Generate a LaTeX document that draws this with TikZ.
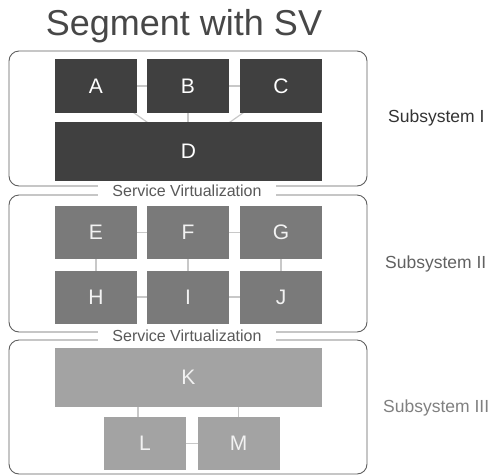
\documentclass[tikz,border=0pt]{standalone}
\usepackage{fontspec}
\setmainfont{Liberation Sans}
\usetikzlibrary{backgrounds}
\definecolor{darkbox}{HTML}{404040}
\definecolor{midbox}{HTML}{7A7A7A}
\definecolor{lightbox}{HTML}{A3A3A3}
\definecolor{frame}{HTML}{5E5E5E}
\definecolor{linkc}{HTML}{C8C8C8}
\tikzset{
  comp/.style={rectangle, inner sep=0pt, outer sep=0pt, text=white, font=\fontsize{21}{21}\selectfont},
  compI/.style={comp, fill=darkbox},
  compII/.style={comp, fill=midbox, text=white!95!black},
  compIII/.style={comp, fill=lightbox, text=white!95!black},
  group/.style={draw=frame, line width=0.9pt, rounded corners=10pt},
  link/.style={draw=linkc, line width=1.2pt},
  svlabel/.style={fill=white, inner sep=0pt, minimum width=178pt, minimum height=14pt, text=black!65, font=\fontsize{16}{16}\selectfont},
  sublabel/.style={anchor=base west, inner sep=0pt, font=\fontsize{17.5}{17.5}\selectfont},
}
\begin{document}
\begin{tikzpicture}[x=1pt,y=-1pt]
\useasboundingbox (0,0) rectangle (493,475);
% title
\node[anchor=base, inner sep=0pt, text=black!72, font=\fontsize{36}{36}\selectfont] (title) at (184,35) {Segment with SV};
% group frames
\draw[group] (9,51) rectangle (367,186);
\draw[group] (9,195) rectangle (367,332);
\draw[group] (9,340) rectangle (367,474);
% subsystem I
\node[compI, minimum width=82pt, minimum height=54pt] (A) at (96,86) {A};
\node[compI, minimum width=82pt, minimum height=54pt] (B) at (188,86) {B};
\node[compI, minimum width=82pt, minimum height=54pt] (C) at (281,86) {C};
\node[compI, minimum width=267pt, minimum height=59pt] (D) at (188.5,151.5) {D};
% subsystem II
\node[compII, minimum width=82pt, minimum height=53pt] (E) at (96,232.5) {E};
\node[compII, minimum width=82pt, minimum height=53pt] (F) at (188,232.5) {F};
\node[compII, minimum width=82pt, minimum height=53pt] (G) at (281,232.5) {G};
\node[compII, minimum width=82pt, minimum height=53pt] (H) at (96,297) {H};
\node[compII, minimum width=82pt, minimum height=53pt] (I) at (188,297) {I};
\node[compII, minimum width=82pt, minimum height=53pt] (J) at (281,297) {J};
% subsystem III
\node[compIII, minimum width=267pt, minimum height=59pt] (K) at (188.5,377.5) {K};
\node[compIII, minimum width=82pt, minimum height=53pt] (L) at (145,443.5) {L};
\node[compIII, minimum width=82pt, minimum height=53pt] (M) at (238.5,443.5) {M};
% connectors
\begin{pgfonlayer}{background}
\draw[link] (A) -- (B);
\draw[link] (B) -- (C);
\draw[link] (A.center) -- (D.center);
\draw[link] (B) -- (B |- D.north);
\draw[link] (C.center) -- (D.center);
\draw[link] (E) -- (F);
\draw[link] (F) -- (G);
\draw[link] (H) -- (I);
\draw[link] (I) -- (J);
\draw[link] (E) -- (H);
\draw[link] (F) -- (I);
\draw[link] (G) -- (J);
\draw[link] (L) -- (M);
\draw[link] ([xshift=-7pt]L.north) -- ([xshift=-7pt]L.north |- K.south);
\draw[link] (M.north) -- (M.north |- K.south);
\end{pgfonlayer}
% service virtualization labels
\node[svlabel] (sv1) at (187,190.5) {Service Virtualization};
\node[svlabel] (sv2) at (187,336) {Service Virtualization};
% subsystem labels
\node[sublabel, text=black!80] (s1) at (388,122) {Subsystem I};
\node[sublabel, text=black!62] (s2) at (385,268) {Subsystem II};
\node[sublabel, text=black!50] (s3) at (383,412) {Subsystem III};
\end{tikzpicture}
\end{document}
